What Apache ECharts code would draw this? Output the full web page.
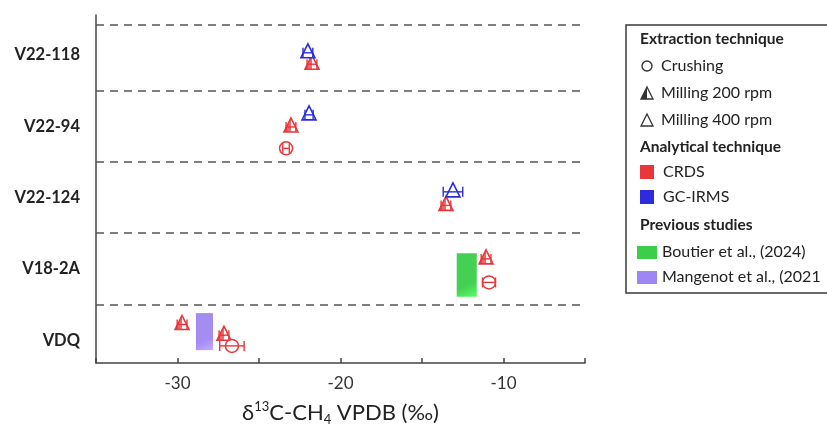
<!DOCTYPE html>
<html><head><meta charset="utf-8">
<script src="https://cdn.jsdelivr.net/npm/echarts@6/dist/echarts.min.js"></script>
<style>html,body{margin:0;padding:0;background:#fff}#c{width:827px;height:432px}</style>
</head><body><div id="c"></div>
<script>
// ---------- data ----------
const categories = ['VDQ', 'V18-2A', 'V22-124', 'V22-94', 'V22-118'];
const categoryPos = [1, 2, 3, 4, 5];
const separators = [1.5, 2.5, 3.5, 4.5, 5.42];
const xTickValues = [-30, -20, -10];
const extractionNames = ['Crushing', 'Milling 200 rpm', 'Milling 400 rpm']; // codes 0,1,2
const analyticalNames = ['CRDS', 'GC-IRMS'];
const previousNames = ['Boutier et al., (2024)', 'Mangenot et al., (2021'];
// [δ13C, row position, half error, extraction code]
const gcIrmsPoints = [
  [-22.0, 5.03, 0.3, 2],
  [-21.93, 4.16, 0.25, 2],
  [-13.1, 3.08, 0.6, 2]
];
const crdsPoints = [
  [-21.75, 4.87, 0.3, 1],
  [-23.04, 3.99, 0.3, 1],
  [-23.34, 3.69, 0.2, 0],
  [-13.53, 2.89, 0.3, 1],
  [-11.07, 2.14, 0.3, 1],
  [-10.89, 1.81, 0.4, 0],
  [-29.72, 1.22, 0.3, 1],
  [-27.15, 1.07, 0.3, 1],
  [-26.66, 0.92, 0.75, 0]
];
// [xMin, xMax, yMin, yMax]
const boutierRange = [-12.87, -11.64, 1.61, 2.22];
const mangenotRange = [-28.87, -27.82, 0.86, 1.38];

// ---------- styles ----------
const RED = '#e8363a', BLUE = '#2c2cdc', GREEN = '#3ccd4a', PURPLE = '#9f86f2';
const FONT = 'Lato';

function pointRenderer(color) {
  return function (params, api) {
    const x = api.value(0), y = api.value(1), e = api.value(2), s = api.value(3);
    const c = api.coord([x, y]);
    const l = api.coord([x - e, y])[0], r = api.coord([x + e, y])[0];
    const ln = { stroke: color, lineWidth: 1.4 };
    const ch = [];
    const cx = c[0], cy = c[1];
    if (s === 0) {
      ch.push({ type: 'circle', shape: { cx, cy, r: 6.5 }, style: { fill: '#fff', stroke: color, lineWidth: 1.5 } });
    } else {
      const tri = [[cx, cy - 9], [cx + 7, cy + 5], [cx - 7, cy + 5]];
      ch.push({ type: 'polygon', shape: { points: tri }, style: { fill: '#fff', stroke: null } });
      if (s === 1) {
        ch.push({ type: 'polygon', shape: { points: [[cx, cy - 9], [cx, cy + 5], [cx - 7, cy + 5]] }, style: { fill: color, opacity: 0.75 } });
      }
      ch.push({ type: 'polygon', shape: { points: tri }, style: { fill: null, stroke: color, lineWidth: 1.6 } });
    }
    ch.push({ type: 'line', shape: { x1: l, y1: cy, x2: r, y2: cy }, style: ln });
    ch.push({ type: 'line', shape: { x1: l, y1: cy - 5, x2: l, y2: cy + 5 }, style: ln });
    ch.push({ type: 'line', shape: { x1: r, y1: cy - 5, x2: r, y2: cy + 5 }, style: ln });
    return { type: 'group', children: ch };
  };
}

function rangeRenderer(params, api) {
  const p0 = api.coord([api.value(0), api.value(3)]);
  const p1 = api.coord([api.value(1), api.value(2)]);
  const col = api.value(4) === 0 ? GREEN : PURPLE;
  const fill = new echarts.graphic.LinearGradient(0, 0, 1, 1, [
    { offset: 0, color: col }, { offset: 0.7, color: col }, { offset: 1, color: echarts.color.lift(col, -0.25) }
  ]);
  return { type: 'rect', shape: { x: p0[0], y: p0[1], width: p1[0] - p0[0], height: p1[1] - p0[1] }, style: { fill, opacity: 0.95 } };
}

// ---------- legend (graphic) ----------
const txt = (x, y, text, bold) => ({ type: 'text', x, y, style: { text, fill: '#222', font: (bold ? 'bold 15.5px ' : '16px ') + FONT, verticalAlign: 'middle', textAlign: 'left' }, z: 10 });
const legend = [
  { type: 'rect', shape: { x: 626, y: 25, width: 230, height: 268 }, style: { fill: '#fff', stroke: '#3a3a3a', lineWidth: 1.5 }, z: 9 },
  txt(640, 39, 'Extraction technique', true),
  { type: 'circle', shape: { cx: 647, cy: 66, r: 5 }, style: { fill: null, stroke: '#333', lineWidth: 1.4 }, z: 10 },
  txt(661, 66, extractionNames[0]),
  { type: 'polygon', shape: { points: [[647, 87], [647, 99], [641, 99]] }, style: { fill: '#333' }, z: 10 },
  { type: 'polygon', shape: { points: [[647, 87], [653, 99], [641, 99]] }, style: { fill: null, stroke: '#333', lineWidth: 1.3 }, z: 10 },
  txt(661, 93, extractionNames[1]),
  { type: 'polygon', shape: { points: [[647, 114], [653, 126], [641, 126]] }, style: { fill: null, stroke: '#333', lineWidth: 1.3 }, z: 10 },
  txt(661, 120, extractionNames[2]),
  txt(640, 147, 'Analytical technique', true),
  { type: 'rect', shape: { x: 640, y: 165, width: 14, height: 14 }, style: { fill: RED }, z: 10 },
  txt(663, 172, analyticalNames[0]),
  { type: 'rect', shape: { x: 640, y: 190, width: 14, height: 14 }, style: { fill: BLUE }, z: 10 },
  txt(663, 197, analyticalNames[1]),
  txt(640, 225, 'Previous studies', true),
  { type: 'rect', shape: { x: 637, y: 246, width: 20, height: 13 }, style: { fill: GREEN }, z: 10 },
  txt(662, 252, previousNames[0]),
  { type: 'rect', shape: { x: 637, y: 271, width: 20, height: 13 }, style: { fill: PURPLE }, z: 10 },
  txt(662, 277, previousNames[1])
];

const chart = echarts.init(document.getElementById('c'), null, { renderer: 'canvas' });
chart.setOption({
  animation: false,
  backgroundColor: '#fff',
  textStyle: { fontFamily: FONT },
  grid: { left: 96, top: 15, width: 489, height: 348, containLabel: false, outerBoundsMode: 'none' },
  xAxis: {
    type: 'value', min: -35, max: -5, interval: 5,
    axisLine: { show: true, lineStyle: { color: '#444', width: 1.5 } },
    axisTick: { show: true, inside: true, length: 5, lineStyle: { color: '#444', width: 1.5 } },
    splitLine: { show: false },
    axisLabel: {
      color: '#333', fontSize: 17, fontFamily: FONT, margin: 12,
      formatter: v => xTickValues.indexOf(v) >= 0 ? String(v) : ''
    },
    name: '{a|δ}{s|13}{a|C-CH}{b|4}{a| VPDB (‰)}',
    nameLocation: 'middle', nameGap: 37, nameMoveOverlap: false,
    nameTextStyle: {
      rich: {
        a: { fontSize: 22, fontFamily: FONT, color: '#222', lineHeight: 26, verticalAlign: 'middle' },
        s: { fontSize: 13, fontFamily: FONT, color: '#222', lineHeight: 14, verticalAlign: 'top' },
        b: { fontSize: 13, fontFamily: FONT, color: '#222', lineHeight: 12, verticalAlign: 'bottom' }
      }
    }
  },
  yAxis: {
    type: 'value', min: 0.68, max: 5.56,
    axisLine: { show: true, lineStyle: { color: '#444', width: 1.5 } },
    axisTick: { show: false },
    splitLine: { show: false },
    axisLabel: {
      customValues: categoryPos, color: '#222', fontSize: 16.5, fontWeight: 'bold', fontFamily: FONT, margin: 16,
      formatter: v => { const i = categoryPos.indexOf(Math.round(v)); return i >= 0 ? categories[i] : ''; }
    }
  },
  graphic: legend,
  series: [
    {
      type: 'custom', name: 'previous', renderItem: rangeRenderer, clip: false, z: 2,
      data: [boutierRange.concat([0]), mangenotRange.concat([1])],
      encode: { x: [0, 1], y: [2, 3] },
      markLine: {
        silent: true, symbol: 'none', animation: false,
        label: { show: false },
        lineStyle: { type: [8, 6], color: '#555', width: 1.5 },
        data: separators.map(v => ({ yAxis: v }))
      }
    },
    { type: 'custom', name: 'CRDS', renderItem: pointRenderer(RED), clip: false, z: 3, data: crdsPoints, encode: { x: 0, y: 1 } },
    { type: 'custom', name: 'GC-IRMS', renderItem: pointRenderer(BLUE), clip: false, z: 4, data: gcIrmsPoints, encode: { x: 0, y: 1 } }
  ]
});
</script></body></html>
